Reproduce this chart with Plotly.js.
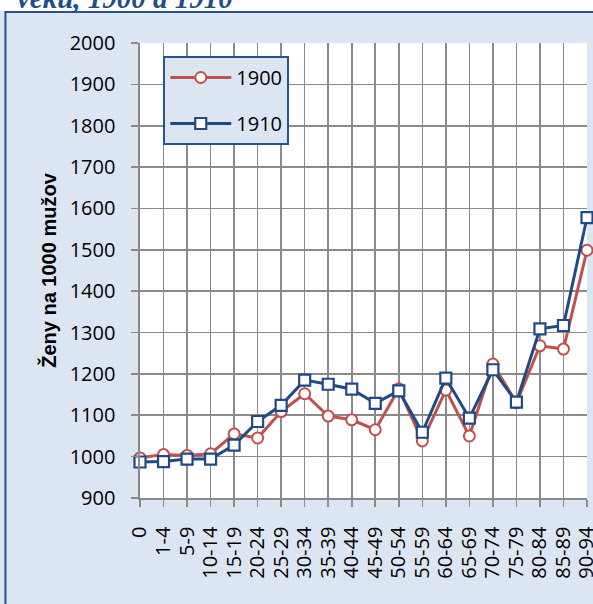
<!DOCTYPE html>
<html>
<head>
<meta charset="utf-8">
<script src="https://cdn.plot.ly/plotly-3.0.1.min.js"></script>
<style>
html,body{margin:0;padding:0;background:#ffffff;}
#chart{width:593px;height:604px;}
</style>
</head>
<body>
<div id="chart"></div>
<script>
const categories = ['0','1-4','5-9','10-14','15-19','20-24','25-29','30-34','35-39','40-44','45-49','50-54','55-59','60-64','65-69','70-74','75-79','80-84','85-89','90-94'];
const values1900 = [997,1005,1003,1007,1055,1045,1109,1152,1098,1089,1065,1164,1038,1161,1050,1224,1130,1268,1260,1499];
const values1910 = [987,988,994,994,1028,1085,1124,1185,1175,1163,1129,1159,1059,1190,1093,1210,1132,1309,1317,1578];
const seriesNames = ['1900','1910'];
const yTitle = 'Ženy na 1000 mužov';
const chartTitle = 'veku, 1900 a 1910';

const W = 593, H = 604;
const mL = 140, mR = 5.5, mT = 43, mB = 106;
const pw = W - mL - mR, ph = H - mT - mB;
const px = x => (x - mL) / pw;
const py = y => (H - mB - y) / ph;

const gridC = '#8a8a8a';
const font = 'Open Sans, Noto Sans, sans-serif';

const traces = [
  {
    x: categories, y: values1900, name: seriesNames[0], type: 'scatter', mode: 'lines+markers',
    legendgroup: 'a', cliponaxis: false,
    line: {color: '#c0504d', width: 3},
    marker: {symbol: 'circle', size: 11, color: '#ffffff', line: {color: '#c0504d', width: 2}}
  },
  {
    x: categories, y: values1910, name: seriesNames[1], type: 'scatter', mode: 'lines+markers',
    legendgroup: 'b', cliponaxis: false,
    line: {color: '#1f4a86', width: 3},
    marker: {symbol: 'square', size: 11, color: '#ffffff', line: {color: '#1f4a86', width: 2.2}}
  }
];

const layout = {
  width: W, height: H,
  margin: {l: mL, r: mR, t: mT, b: mB, pad: 0},
  paper_bgcolor: '#dce6f2',
  plot_bgcolor: '#ffffff',
  font: {family: font, size: 20, color: '#000000'},
  showlegend: true,
  legend: {
    x: px(163.3), y: py(56), xanchor: 'left', yanchor: 'top',
    bgcolor: '#dce6f2', bordercolor: '#24558f', borderwidth: 2,
    font: {family: font, size: 20, color: '#000000'},
    traceorder: 'grouped', tracegroupgap: 17, itemwidth: 61
  },
  xaxis: {
    type: 'category', range: [0, categories.length - 1],
    tickmode: 'array', tickvals: categories, ticktext: categories,
    showgrid: true, gridcolor: gridC, gridwidth: 1.6,
    showline: true, linecolor: gridC, linewidth: 1.6,
    ticks: 'outside', ticklen: 7, tickwidth: 1.6, tickcolor: gridC,
    tickangle: -90, tickfont: {family: font, size: 20, color: '#000000'},
    ticklabelstandoff: 12, zeroline: false, fixedrange: true
  },
  yaxis: {
    range: [900, 2000], dtick: 100, tick0: 900,
    showgrid: true, gridcolor: gridC, gridwidth: 1.6,
    showline: true, linecolor: gridC, linewidth: 1.6,
    ticks: 'outside', ticklen: 7, tickwidth: 1.6, tickcolor: gridC,
    tickfont: {family: font, size: 20, color: '#000000'},
    ticklabelstandoff: 12, zeroline: false, fixedrange: true,
    title: {text: yTitle, font: {family: 'Liberation Sans, Arial, sans-serif', size: 20, color: '#000000', weight: 'bold'}, standoff: 7}
  },
  shapes: [
    {type: 'rect', xref: 'paper', yref: 'paper', x0: px(-5), x1: px(600), y0: py(11), y1: py(-5),
     fillcolor: '#ffffff', line: {width: 0}, layer: 'below'},
    {type: 'rect', xref: 'paper', yref: 'paper', x0: px(5.3), x1: px(640), y0: py(650), y1: py(12),
     fillcolor: 'rgba(0,0,0,0)', line: {color: '#24558f', width: 2}, layer: 'above'}
  ],
  annotations: [
    {text: chartTitle, xref: 'paper', yref: 'paper', x: px(15), y: py(16), xanchor: 'left', yanchor: 'bottom',
     showarrow: false, font: {family: 'Liberation Serif, DejaVu Serif, serif', size: 29, color: '#1f4e8a', weight: 'bold', style: 'italic'}}
  ]
};

Plotly.newPlot('chart', traces, layout, {displayModeBar: false, staticPlot: true});
</script>
</body>
</html>
